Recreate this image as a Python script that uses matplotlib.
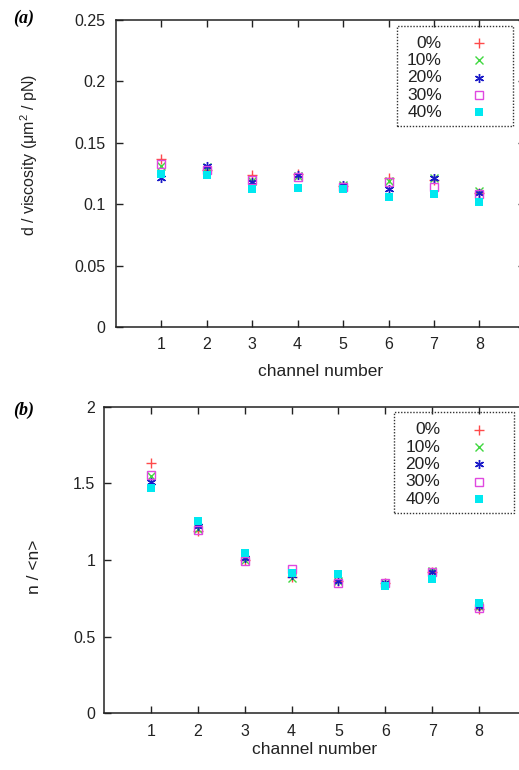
import matplotlib
matplotlib.use("Agg")
import matplotlib.pyplot as plt
from matplotlib.patches import Rectangle

plt.rcParams['font.family'] = ['Liberation Sans', 'DejaVu Sans']

channels = [1, 2, 3, 4, 5, 6, 7, 8]
series_labels = ['0%', '10%', '20%', '30%', '40%']

# (a) d / viscosity
visc_0 = [0.137, 0.128, 0.124, 0.125, 0.115, 0.121, 0.120, 0.109]
visc_10 = [0.131, 0.130, 0.119, 0.123, 0.116, 0.119, 0.121, 0.111]
visc_20 = [0.121, 0.131, 0.118, 0.124, 0.116, 0.112, 0.121, 0.109]
visc_30 = [0.133, 0.128, 0.120, 0.122, 0.114, 0.118, 0.114, 0.108]
visc_40 = [0.125, 0.124, 0.112, 0.113, 0.112, 0.106, 0.108, 0.102]

# (b) n / <n>
n_0 = [1.635, 1.19, 1.00, 0.89, 0.86, 0.85, 0.92, 0.68]
n_10 = [1.55, 1.20, 1.00, 0.88, 0.86, 0.85, 0.93, 0.70]
n_20 = [1.51, 1.22, 1.01, 0.90, 0.865, 0.85, 0.924, 0.70]
n_30 = [1.554, 1.196, 0.995, 0.939, 0.848, 0.852, 0.925, 0.685]
n_40 = [1.47, 1.256, 1.044, 0.917, 0.907, 0.83, 0.874, 0.722]

x_ticks = [1, 2, 3, 4, 5, 6, 7, 8]
a_yticks = [0, 0.05, 0.1, 0.15, 0.2, 0.25]
a_yticklabels = ['0', '0.05', '0.1', '0.15', '0.2', '0.25']
b_yticks = [0, 0.5, 1, 1.5, 2]
b_yticklabels = ['0', '0.5', '1', '1.5', '2']

colors = ['#ff4a4a', '#40d840', '#1a1ac8', '#e048e0', '#00e8f0']
styles = [
    dict(marker='+', mfc='none', ms=6.5, mew=1.0),
    dict(marker='x', mfc='none', ms=5.5, mew=1.0),
    dict(marker=(6, 2, 0), mfc='none', ms=6.5, mew=1.0),
    dict(marker='s', mfc='none', ms=5.5, mew=1.0),
    dict(marker='s', ms=6, mew=0),
]

fig = plt.figure(figsize=(5.19, 7.70), dpi=100)
ax1 = fig.add_axes([0.2229, 0.5753, 0.7886, 0.3987])
ax2 = fig.add_axes([0.2010, 0.0736, 0.8120, 0.3982])


def draw(ax, data, yticks, yticklabels, ylim, ylabel, ylabel_coords, xlabel_y, pad_y):
    for vals, c, st in zip(data, colors, styles):
        kw = dict(st)
        if kw.get('mfc') != 'none':
            kw['mfc'] = c
        ax.plot(channels, vals, linestyle='none', color=c, mec=c, **kw)
    ax.set_xlim(0, 9)
    ax.set_ylim(*ylim)
    ax.set_xticks(x_ticks)
    ax.set_xticklabels([str(t) for t in x_ticks])
    ax.set_yticks(yticks)
    ax.set_yticklabels(yticklabels)
    ax.tick_params(direction='in', length=5, width=1, labelsize=11.5,
                   top=True, right=True, colors='#222222')
    ax.tick_params(axis='y', pad=pad_y)
    ax.tick_params(axis='x', pad=7.5)
    for s in ax.spines.values():
        s.set_linewidth(1.1)
        s.set_color('#222222')
    ax.set_xlabel('channel number', fontsize=12.5, color='#222222')
    ax.xaxis.set_label_coords(0.5, xlabel_y)
    ax.set_ylabel(ylabel, fontsize=ylabel_coords[2], color='#222222')
    ax.yaxis.set_label_coords(ylabel_coords[0], ylabel_coords[1])

    # legend (gnuplot style: right-aligned text, marker after)
    x0, x1 = 0.687, 0.971
    y1, y0 = 0.982, 0.654
    ax.add_patch(Rectangle((x0, y0), x1 - x0, y1 - y0, transform=ax.transAxes,
                           fill=False, ls=(0, (1, 1.2)), lw=1.0, ec='#333333',
                           zorder=5, clip_on=False))
    for i, (lab, c, st) in enumerate(zip(series_labels, colors, styles)):
        yy = 0.925 - i * 0.0565
        ax.text(0.797, yy, lab, transform=ax.transAxes, ha='right', va='center',
                fontsize=12.5, color='#222222', zorder=6)
        kw = dict(st)
        if kw.get('mfc') != 'none':
            kw['mfc'] = c
        ax.plot([0.888], [yy], transform=ax.transAxes, linestyle='none',
                color=c, mec=c, zorder=6, clip_on=False, **kw)


draw(ax1, [visc_0, visc_10, visc_20, visc_30, visc_40], a_yticks, a_yticklabels,
     (0, 0.25), r'd / viscosity ($\mathregular{\mu m^2}$ / pN)', (-0.185, 0.56, 11.5), -0.122, 7.5)
draw(ax2, [n_0, n_10, n_20, n_30, n_40], b_yticks, b_yticklabels,
     (0, 2), 'n / <n>', (-0.148, 0.478, 12.5), -0.092, 6.5)

fig.text(13 / 519, 1 - 18 / 770, '(a)', fontsize=13, fontweight='bold', style='italic',
         family='Liberation Serif', va='center', ha='left')
fig.text(13 / 519, 1 - 410 / 770, '(b)', fontsize=13, fontweight='bold', style='italic',
         family='Liberation Serif', va='center', ha='left')

fig.savefig('out.png', dpi=100)
